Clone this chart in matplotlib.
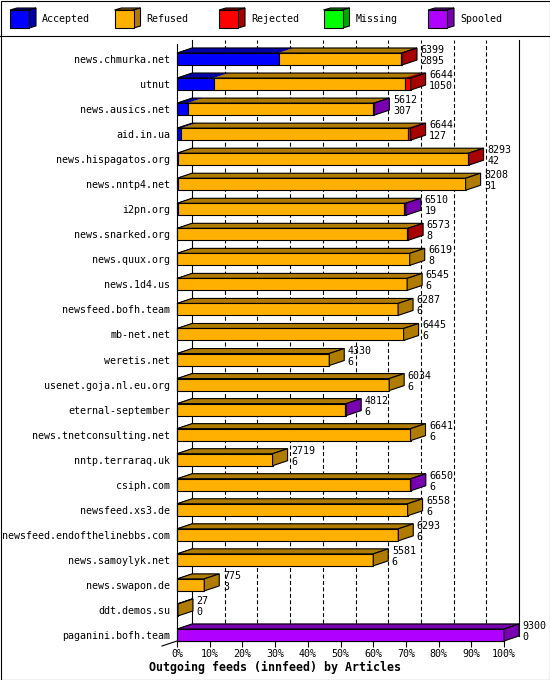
import matplotlib
matplotlib.use('Agg')
import matplotlib.pyplot as plt
from matplotlib.patches import Polygon, Rectangle
from matplotlib.lines import Line2D

# Outgoing innfeed stats, articles per peer
hosts = ['news.chmurka.net', 'utnut', 'news.ausics.net', 'aid.in.ua',
         'news.hispagatos.org', 'news.nntp4.net', 'i2pn.org', 'news.snarked.org',
         'news.quux.org', 'news.1d4.us', 'newsfeed.bofh.team', 'mb-net.net',
         'weretis.net', 'usenet.goja.nl.eu.org', 'eternal-september',
         'news.tnetconsulting.net', 'nntp.terraraq.uk', 'csiph.com',
         'newsfeed.xs3.de', 'newsfeed.endofthelinebbs.com', 'news.samoylyk.net',
         'news.swapon.de', 'ddt.demos.su', 'paganini.bofh.team']
total = [6399, 6644, 5612, 6644, 8293, 8208, 6510, 6573, 6619, 6545, 6287, 6445,
         4330, 6034, 4812, 6641, 2719, 6650, 6558, 6293, 5581, 775, 27, 9300]
accepted = [2895, 1050, 307, 127, 42, 31, 19, 8, 8, 6, 6, 6,
            6, 6, 6, 6, 6, 6, 6, 6, 6, 3, 0, 0]
refused = [3484, 5424, 5275, 6432, 8231, 8177, 6431, 6525, 6611, 6539, 6281, 6439,
           4324, 6028, 4786, 6635, 2713, 6624, 6552, 6287, 5575, 772, 27, 0]
rejected = [20, 170, 0, 85, 20, 0, 0, 40, 0, 0, 0, 0,
            0, 0, 0, 0, 0, 0, 0, 0, 0, 0, 0, 0]
missing = [0, 0, 0, 0, 0, 0, 0, 0, 0, 0, 0, 0,
           0, 0, 0, 0, 0, 0, 0, 0, 0, 0, 0, 0]
spooled = [0, 0, 30, 0, 0, 0, 60, 0, 0, 0, 0, 0,
           0, 0, 20, 0, 0, 20, 0, 0, 0, 0, 0, 9300]

series = ['Accepted', 'Refused', 'Rejected', 'Missing', 'Spooled']
colors = ['#0000ff', '#ffb000', '#ff0000', '#00ff00', '#b000ff']
shades = ['#0000a8', '#b07c00', '#a80000', '#00a800', '#7800b0']

plt.rcParams['font.family'] = 'DejaVu Sans Mono'
plt.rcParams['font.size'] = 7.2

W, H = 550, 680
fig = plt.figure(figsize=(W / 100, H / 100), dpi=100)
fig.patches.append(Rectangle((0.5 / W, 0.5 / H), 1 - 1 / W, 1 - 1 / H, transform=fig.transFigure,
                             fill=False, ec='black', lw=0.8))
fig.add_artist(Line2D([0, 1], [1 - 36 / H] * 2, color='black', lw=0.8))

# legend strip with little cubes
lax = fig.add_axes([0, 1 - 36 / H, 1, 36 / H])
lax.set_xlim(0, W)
lax.set_ylim(36, 0)
lax.axis('off')
for k, name in enumerate(series):
    x0 = 10 + k * 104.5
    lax.add_patch(Polygon([(x0, 10), (x0 + 7, 8), (x0 + 26, 8), (x0 + 19, 10)],
                          fc=shades[k], ec='black', lw=0.8))
    lax.add_patch(Polygon([(x0 + 19, 10), (x0 + 26, 8), (x0 + 26, 26), (x0 + 19, 28)],
                          fc=shades[k], ec='black', lw=0.8))
    lax.add_patch(Rectangle((x0, 10), 19, 18, fc=colors[k], ec='black', lw=0.8))
    lax.text(x0 + 32, 19.5, name, va='center', ha='left')

# main plot
n = len(hosts)
ax = fig.add_axes([177 / W, (H - 641) / H, 327 / W, 597 / H])
ylo, yhi = n - 1 + 0.24, -0.6
ax.set_xlim(0, 100)
ax.set_ylim(ylo, yhi)
row_px = 597 / (ylo - yhi)
dx = 15 * 100 / 327   # 3d depth, in percent
dy = 5 / row_px       # 3d depth, in rows
bh = 12 / row_px      # front face height

scale = 100 / max(total)

# back wall + grid
wall_top = yhi - 4 / row_px
wall_bot = ylo - dy
ax.plot([dx, dx], [wall_bot, wall_top], color='black', lw=0.8, clip_on=False, zorder=1)
ax.plot([100 + dx, 100 + dx], [wall_bot, wall_top], color='black', lw=0.8, clip_on=False, zorder=1)
for t in range(10, 100, 10):
    ax.plot([t + dx, t + dx], [wall_bot, wall_top], color='black', lw=0.8,
            linestyle=(0, (3.6, 2.2)), clip_on=False, zorder=1)
ax.plot([0, -dx], [ylo, ylo + dy], color='black', lw=0.8, clip_on=False, zorder=1)

for i in range(n):
    vals = [accepted[i], refused[i], rejected[i], missing[i], spooled[i]]
    y_top, y_bot = i - bh / 2, i + bh / 2
    left = 0
    last = 1
    for k, v in enumerate(vals):
        if v <= 0:
            continue
        w = v * scale
        ax.barh(i, w, left=left, height=bh, color=colors[k], edgecolor='black',
                lw=0.8, zorder=3, clip_on=False)
        ax.add_patch(Polygon([(left, y_top), (left + w, y_top), (left + w + dx, y_top - dy),
                              (left + dx, y_top - dy)], fc=shades[k], ec=shades[k], lw=0.3,
                             zorder=2, clip_on=False))
        left += w
        last = k
    end = left
    ax.add_patch(Polygon([(0, y_top), (end, y_top), (end + dx, y_top - dy), (dx, y_top - dy)],
                         fill=False, ec='black', lw=0.8, zorder=4, clip_on=False))
    ax.add_patch(Polygon([(end, y_top), (end + dx, y_top - dy), (end + dx, y_bot - dy), (end, y_bot)],
                         fc=shades[last], ec='black', lw=0.8, zorder=4, clip_on=False))
    ax.text(end + dx + 1.1, i - 0.36, str(total[i]), va='center', ha='left', zorder=5)
    ax.text(end + dx + 1.1, i + 0.08, str(accepted[i]), va='center', ha='left', zorder=5)

ax.spines['top'].set_visible(False)
ax.spines['right'].set_visible(False)
ax.spines['left'].set_linewidth(0.8)
ax.spines['bottom'].set_linewidth(0.8)
ax.spines['left'].set_zorder(6)

ax.set_xticks(range(0, 101, 10))
ax.set_xticklabels([f'{t}%' for t in range(0, 101, 10)])
ax.set_yticks(range(n))
ax.set_yticklabels(hosts)
ax.tick_params(axis='x', direction='out', length=4, width=0.8, pad=2)
ax.tick_params(axis='y', length=0, pad=5)

# axis title is centred on the whole image, not on the plot area
fig.text(0.5, 1 - 667 / H, 'Outgoing feeds (innfeed) by Articles', fontweight='bold',
         fontsize=8.4, ha='center', va='center')

fig.savefig('out.png', dpi=100)
